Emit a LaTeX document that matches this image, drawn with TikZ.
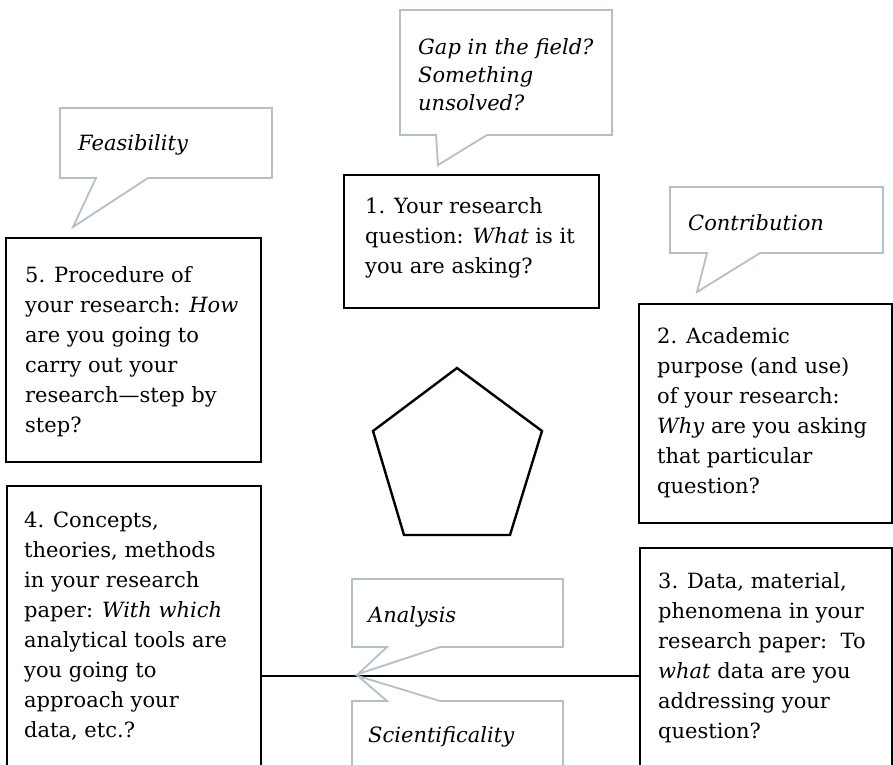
\documentclass[tikz,border=0pt]{standalone}
\usepackage{fontspec}
\setmainfont{DejaVu Serif}
\usetikzlibrary{shapes.geometric}
\definecolor{callgray}{RGB}{180,192,201}
\tikzset{
  box/.style={draw=black, line width=2.4pt, fill=white, inner sep=0pt, anchor=north west},
  txt/.style={inner sep=0pt, anchor=north west, align=left, font=\fontsize{21}{30}\selectfont},
  ctxt/.style={inner sep=0pt, anchor=north west, align=left, font=\fontsize{21}{28}\selectfont\itshape},
  callout/.style={draw=callgray, line width=1.8pt, fill=white, line join=miter},
}
\begin{document}
\begin{tikzpicture}[x=1pt,y=-1pt]
\useasboundingbox (0,0) rectangle (893,764);
\clip (0,0) rectangle (893,764);
\fill[white] (0,0) rectangle (893,764);

% boxes
\node[box, minimum width=255pt, minimum height=224pt] (b5) at (5,237) {};
\node[box, minimum width=255pt, minimum height=133pt] (b1) at (343,174) {};
\node[box, minimum width=253pt, minimum height=219pt] (b2) at (638,303) {};
\node[box, minimum width=252pt, minimum height=256pt] (b3) at (639,547) {};
\node[box, minimum width=254pt, minimum height=380pt] (b4) at (6,485) {};

% connector
\draw[line width=2.4pt] (b4.east) -- (b3.west);

% pentagon
\draw[line width=2.4pt, line join=miter] (457,368) -- (542,431) -- (510,535) -- (404,535) -- (373,431) -- cycle;

% callouts
\draw[callout] (60,108) -- (272,108) -- (272,178) -- (148,178) -- (73,227) -- (96,178) -- (60,178) -- cycle;
\draw[callout] (400,10) -- (612,10) -- (612,135) -- (487,135) -- (438,165) -- (436,135) -- (400,135) -- cycle;
\draw[callout] (670,187) -- (883,187) -- (883,253) -- (760,253) -- (697,292) -- (707,253) -- (670,253) -- cycle;
\draw[callout] (352,579) -- (563,579) -- (563,647) -- (440,647) -- (358,674) -- (387,647) -- (352,647) -- cycle;
\draw[callout] (352,701) -- (387,701) -- (358,676) -- (440,701) -- (563,701) -- (563,800) -- (352,800) -- cycle;

% texts (first baseline = y, strut height 21)
\node[txt] (t1) at (365,192) {\strut 1. Your research\\question: \textit{What} is it\\you are asking?};
\node[txt] (t2) at (657,322) {\strut 2. Academic\\purpose (and use)\\of your research:\\\textit{Why} are you asking\\that particular\\question?};
\node[txt] (t3) at (658,567) {\strut 3. Data, material,\\phenomena in your\\research paper:\ \ To\\\textit{what} data are you\\addressing your\\question?};
\node[txt] (t4) at (24,506) {\strut 4. Concepts,\\theories, methods\\in your research\\paper: \textit{With which}\\analytical tools are\\you going to\\approach your\\data, etc.?};
\node[txt] (t5) at (25,261) {\strut 5. Procedure of\\your research: \textit{How}\\are you going to\\carry out your\\research---step by\\step?};

\node[ctxt] (c5) at (78,130.4) {\strut Feasibility};
\node[ctxt] (c1) at (418,34.4) {\strut Gap in the field?\\Something\\unsolved?};
\node[ctxt] (c2) at (688,210.4) {\strut Contribution};
\node[ctxt] (c4) at (368,602.4) {\strut Analysis};
\node[ctxt] (c3) at (368,722.4) {\strut Scientificality};
\end{tikzpicture}
\end{document}
